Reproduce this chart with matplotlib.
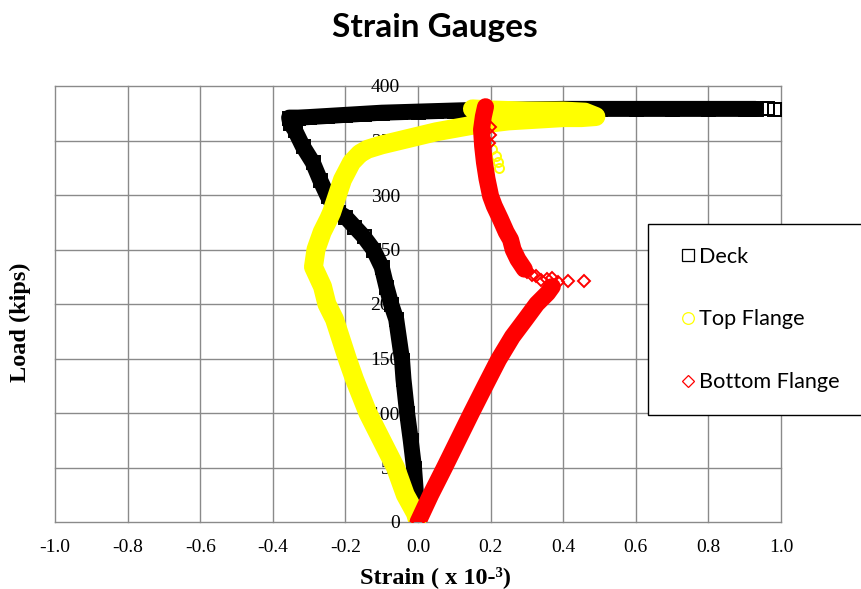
import matplotlib
matplotlib.use("Agg")
import matplotlib.pyplot as plt
from matplotlib.lines import Line2D

# ---- data: strain (x 10^-3) vs load (kips) ----
# Deck gauge
deck_strain = [0.0, -0.003, -0.011, -0.02, -0.03, -0.04, -0.044, -0.06, -0.074, -0.087,
               -0.10, -0.123, -0.15, -0.175, -0.20, -0.22, -0.249, -0.27, -0.29, -0.318,
               -0.34, -0.352, -0.355, -0.33, -0.30, -0.25, -0.20, -0.15, -0.10, -0.05,
               0.0, 0.05, 0.10, 0.15, 0.20, 0.30, 0.40, 0.50, 0.60, 0.70, 0.80, 0.90, 0.93]
deck_load = [0, 14, 50, 75, 100, 131, 149, 186, 200, 216,
             234, 250, 262, 271, 280, 284, 299, 314, 330, 345,
             360, 366, 371, 371, 371.5, 372.5, 373.5, 374.5, 375.5, 376,
             376.5, 377, 377.5, 378, 378, 378.5, 379, 379, 379, 379, 379, 379, 379]
deck_tail_strain = [0.945, 0.962, 0.98, 0.996]
deck_tail_load = [379.5, 379.5, 379.3, 379.3]

# Top flange gauge
top_strain = [0.0, -0.007, -0.035, -0.062, -0.10, -0.138, -0.175, -0.194, -0.23, -0.251,
              -0.263, -0.288, -0.281, -0.264, -0.246, -0.238, -0.223, -0.208, -0.183, -0.16,
              -0.139, -0.10, -0.05, 0.0, 0.05, 0.10, 0.15, 0.20, 0.25, 0.30,
              0.35, 0.40, 0.45, 0.49, 0.46, 0.40, 0.30, 0.20, 0.15]
top_load = [0, 8, 25, 50, 75, 100, 131, 149, 186, 200,
            216, 234, 250, 266, 278, 284, 299, 314, 330, 338,
            342, 346, 350, 354, 358, 361, 364, 366, 368, 369,
            370, 371, 371, 372, 376, 377, 377, 378, 379]
top_loose_strain = [0.205, 0.215, 0.22, 0.222]
top_loose_load = [342, 336, 330, 325]

# Bottom flange gauge
bot_low_strain = [0.0, 0.035, 0.073, 0.11, 0.147, 0.185, 0.222, 0.26, 0.296, 0.327, 0.357, 0.37]
bot_low_load = [0, 25, 50, 75, 100, 125, 149, 170, 186, 200, 210, 216]
bot_high_strain = [0.293, 0.275, 0.262, 0.255, 0.243, 0.227, 0.21, 0.20, 0.19, 0.183,
                   0.178, 0.175, 0.18, 0.186]
bot_high_load = [232, 241, 250, 259, 266, 278, 290, 299, 315, 330,
                 345, 360, 372, 381]
bot_loose_strain = [0.30, 0.313, 0.325, 0.34, 0.355, 0.37, 0.385, 0.412, 0.456,
                    0.196, 0.197, 0.199]
bot_loose_load = [229, 227, 226, 222, 223, 224, 220, 221, 221,
                  348, 355, 362]

x_ticks = [-1.0, -0.8, -0.6, -0.4, -0.2, 0.0, 0.2, 0.4, 0.6, 0.8, 1.0]
x_tick_labels = ["-1.0", "-0.8", "-0.6", "-0.4", "-0.2", "0.0", "0.2", "0.4", "0.6", "0.8", "1.0"]
y_ticks = [0, 50, 100, 150, 200, 250, 300, 350, 400]
y_tick_labels = ["0", "50", "100", "150", "200", "250", "300", "350", "400"]

series_names = ["Deck", "Top Flange", "Bottom Flange"]
BLACK, YELLOW, RED = "#000000", "#FFFF00", "#FF0000"
GRID = "#8a8a8a"
SERIF = "Liberation Serif"
SANS = "Lato"

fig = plt.figure(figsize=(8.61, 5.89), dpi=100)
W, H = 861.0, 589.0
ax = fig.add_axes([55 / W, 67 / H, 726 / W, 436 / H])

# vertical axis crosses at zero strain (set before ticks: this resets the axis)
ax.spines["left"].set_position(("data", 0))
for s in ax.spines.values():
    s.set_visible(False)

ax.set_xlim(-1.0, 1.0)
ax.set_ylim(0, 400)
ax.set_xticks(x_ticks)
ax.set_xticklabels(x_tick_labels, family=SERIF, fontsize=14)
ax.set_yticks(y_ticks)
ax.set_yticklabels(y_tick_labels, family=SERIF, fontsize=14)
ax.tick_params(axis="both", length=0)
ax.tick_params(axis="x", pad=12.5)
ax.tick_params(axis="y", pad=13)

ax.set_axisbelow(True)
ax.grid(True, color=GRID, linewidth=1.0)
for gl in ax.get_xgridlines() + ax.get_ygridlines():
    gl.set_clip_on(False)


def band(xs, ys, color, width_px, marker, ms_px, z):
    ax.plot(xs, ys, color=color, lw=width_px * 0.72,
            solid_capstyle="round", solid_joinstyle="round",
            marker=marker, ms=ms_px * 0.72, mfc="none", mec=color, mew=1.4, zorder=z)


def loose(xs, ys, color, marker, ms_px, z):
    ax.plot(xs, ys, ls="none", marker=marker, ms=ms_px * 0.72,
            mfc="none", mec=color, mew=1.4, zorder=z)


band(deck_strain, deck_load, BLACK, 16, "s", 13, 3)
loose(deck_tail_strain, deck_tail_load, BLACK, "s", 13, 3)
band(top_strain, top_load, YELLOW, 19, "o", 13, 4)
loose(top_loose_strain, top_loose_load, YELLOW, "o", 9, 4)
band(bot_low_strain, bot_low_load, RED, 17, "D", 9, 5)
band(bot_high_strain, bot_high_load, RED, 17, "D", 9, 5)
loose(bot_loose_strain, bot_loose_load, RED, "D", 8.6, 5)

# titles and axis labels
fig.text(435 / W, 1 - 37 / H, "Strain Gauges", ha="center", va="baseline",
         fontsize=24, fontweight="bold", family=SANS)
fig.text(436 / W, 1 - 583 / H, "Strain ( x 10-\u00b3)", ha="center", va="baseline",
         fontsize=17.5, fontweight="bold", family=SERIF)
fig.text(20 / W, 1 - 322.5 / H, "Load (kips)", ha="center", va="center", rotation=90,
         fontsize=17.5, fontweight="bold", family=SERIF)

handles = [
    Line2D([], [], ls="none", marker="s", ms=8.2, mfc="none", mec=BLACK, mew=0.9),
    Line2D([], [], ls="none", marker="o", ms=8.4, mfc="none", mec=YELLOW, mew=0.9),
    Line2D([], [], ls="none", marker="D", ms=5.9, mfc="none", mec=RED, mew=0.9),
]
leg = fig.legend(handles, series_names, loc="upper left",
                 bbox_to_anchor=(648 / W, 1 - 224 / H, 240 / W, 0), mode="expand",
                 borderaxespad=0, frameon=True, fancybox=False, framealpha=1,
                 edgecolor="black", prop={"family": SANS, "size": 15.6},
                 labelspacing=1.97, borderpad=1.05, handlelength=1.58, handletextpad=-0.28)
leg.get_frame().set_linewidth(1.0)

fig.savefig("out.png", dpi=100)
